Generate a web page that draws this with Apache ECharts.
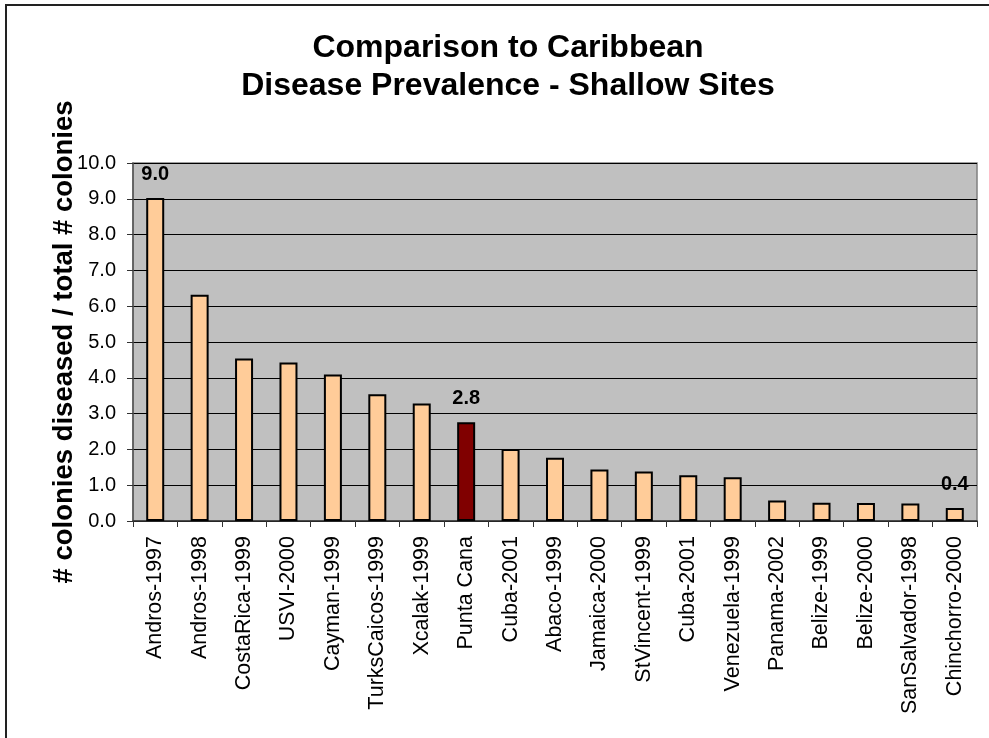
<!DOCTYPE html>
<html>
<head>
<meta charset="utf-8">
<title>Comparison to Caribbean Disease Prevalence - Shallow Sites</title>
<script src="https://cdn.jsdelivr.net/npm/echarts@6/dist/echarts.min.js"></script>
<style>
  html, body { margin: 0; padding: 0; background: #ffffff; }
  #chart { width: 989px; height: 738px; }
</style>
</head>
<body>
<div id="chart"></div>
<script>
// Survey sites, ordered by prevalence
const sites = [
  'Andros-1997', 'Andros-1998', 'CostaRica-1999', 'USVI-2000', 'Cayman-1999',
  'TurksCaicos-1999', 'Xcalak-1999', 'Punta Cana', 'Cuba-2001', 'Abaco-1999',
  'Jamaica-2000', 'StVincent-1999', 'Cuba-2001', 'Venezuela-1999', 'Panama-2002',
  'Belize-1999', 'Belize-2000', 'SanSalvador-1998', 'Chinchorro-2000'
];

// # colonies diseased / total # colonies
const prevalence = [
  9.02, 6.32, 4.54, 4.43, 4.09,
  3.54, 3.28, 2.76, 2.01, 1.77,
  1.44, 1.38, 1.28, 1.22, 0.57,
  0.51, 0.50, 0.49, 0.36
];

// bar positions whose value is printed above the bar
const labelledIndex = [0, 7, 18];
// the highlighted site
const focusIndex = 7;

const yTicks = { min: 0, max: 10, interval: 1 };

const FONT = '"Liberation Sans", Arial, Helvetica, sans-serif';

const barData = prevalence.map(function (v, i) {
  const item = { value: v };
  if (i === focusIndex) {
    item.itemStyle = { color: '#800000' };
  }
  if (labelledIndex.indexOf(i) >= 0) {
    item.label = { show: true };
  }
  return item;
});

const chart = echarts.init(document.getElementById('chart'), null, { renderer: 'canvas' });

chart.setOption({
  backgroundColor: '#ffffff',
  animation: false,
  title: {
    text: 'Comparison to Caribbean\nDisease Prevalence - Shallow Sites',
    left: 503,
    textAlign: 'center',
    top: 24,
    textStyle: {
      fontFamily: FONT,
      fontWeight: 'bold',
      fontSize: 32,
      lineHeight: 38,
      color: '#000'
    }
  },
  // outer frame: only the top and left edges fall inside the canvas
  graphic: [{
    type: 'polyline',
    shape: { points: [[6, 800], [6, 5], [1100, 5]] },
    style: { fill: 'none', stroke: '#222', lineWidth: 2 },
    silent: true,
    z: 100
  }],
  grid: {
    left: 133,
    right: 12,
    top: 163,
    bottom: 217,
    show: true,
    backgroundColor: '#C0C0C0',
    borderColor: '#808080',
    borderWidth: 1.5
  },
  xAxis: {
    type: 'category',
    data: sites,
    boundaryGap: true,
    axisLine: { show: true, lineStyle: { color: '#333', width: 1.5 } },
    axisTick: { show: true, alignWithLabel: false, length: 6, lineStyle: { color: '#333' } },
    axisLabel: {
      rotate: 90,
      interval: 0,
      margin: 15,
      fontFamily: FONT,
      fontSize: 21.5,
      color: '#000'
    },
    splitLine: { show: false }
  },
  yAxis: {
    type: 'value',
    min: yTicks.min,
    max: yTicks.max,
    interval: yTicks.interval,
    name: '# colonies diseased / total # colonies',
    nameLocation: 'middle',
    nameRotate: 90,
    nameGap: 55,
    nameMoveOverlap: false,
    nameTextStyle: {
      fontFamily: FONT,
      fontWeight: 'bold',
      fontSize: 27.5,
      color: '#000'
    },
    axisLine: { show: true, lineStyle: { color: '#555', width: 1.5 } },
    axisTick: { show: true, length: 6, lineStyle: { color: '#333' } },
    axisLabel: {
      margin: 17,
      fontFamily: FONT,
      fontSize: 20,
      color: '#000',
      formatter: function (v) { return v.toFixed(1); }
    },
    splitLine: { show: true, lineStyle: { color: '#000', width: 1 } }
  },
  series: [{
    type: 'bar',
    data: barData,
    barWidth: 18,
    itemStyle: {
      color: '#FFCC99',
      borderColor: '#000',
      borderWidth: 2
    },
    label: {
      show: false,
      position: 'top',
      distance: 14,
      fontFamily: FONT,
      fontWeight: 'bold',
      fontSize: 20,
      color: '#000',
      formatter: function (p) { return p.value.toFixed(1); }
    }
  }]
});
</script>
</body>
</html>
